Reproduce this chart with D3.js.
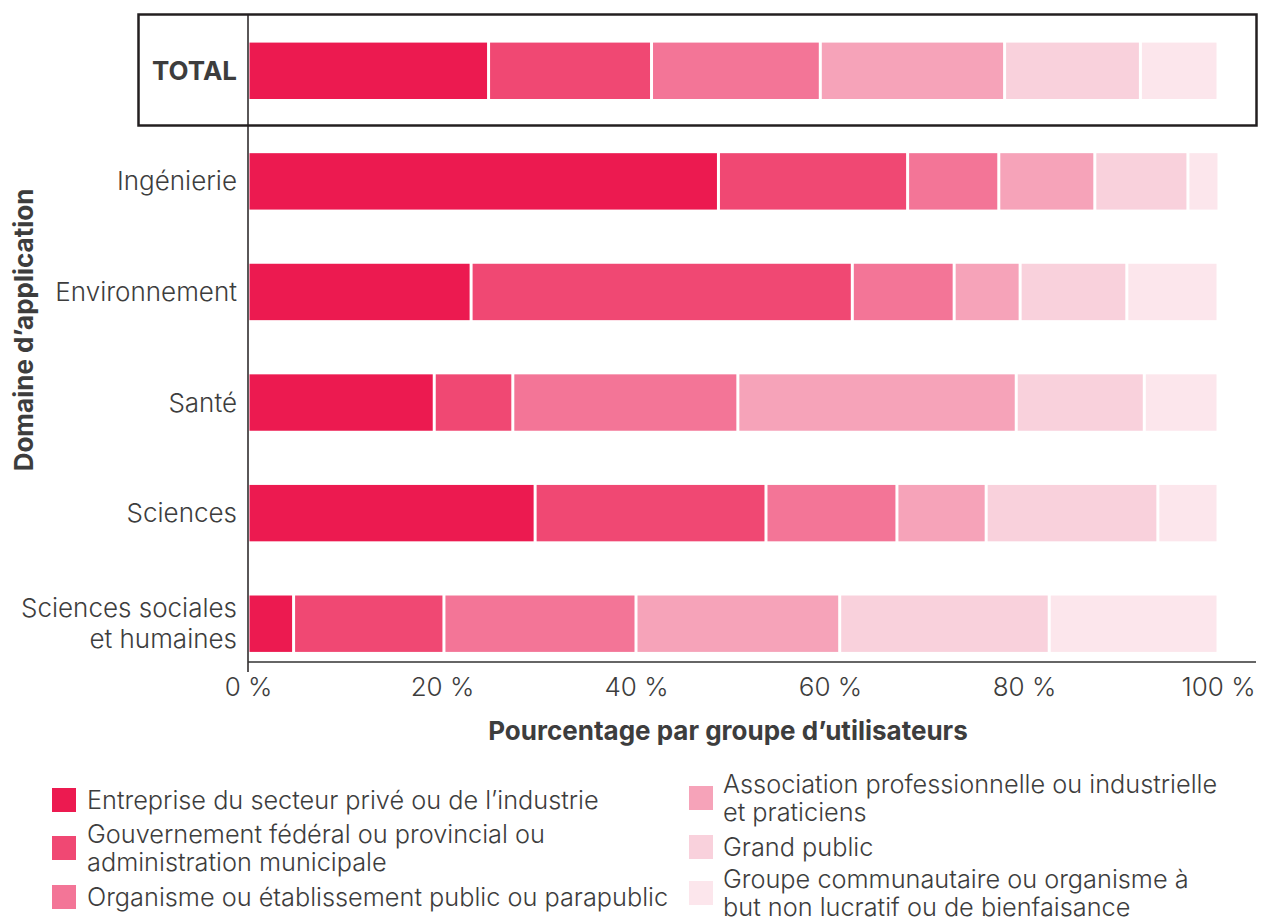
<!DOCTYPE html>
<html>
<head>
<meta charset="utf-8">
<script src="https://d3js.org/d3.v7.min.js"></script>
<style>
  body { margin: 0; background: #fff; }
  text { font-family: Inter, Roboto, "Liberation Sans", sans-serif; fill: #3d3d3d; }
</style>
</head>
<body>
<div id="chart"></div>
<script>
// domaines (axe vertical)
const categories = ["TOTAL", "Ingénierie", "Environnement", "Santé", "Sciences", "Sciences sociales et humaines"];
const categoryLines = [["TOTAL"], ["Ingénierie"], ["Environnement"], ["Santé"], ["Sciences"], ["Sciences sociales", "et humaines"]];

// groupes d'utilisateurs (% par domaine, même ordre que categories)
const prive         = [24.8, 48.5, 23.0, 19.2, 29.6,  4.7];
const gouvernement  = [16.8, 19.5, 39.3,  8.1, 23.8, 15.5];
const organisme     = [17.4,  9.4, 10.5, 23.2, 13.5, 19.8];
const association   = [19.0,  9.9,  6.8, 28.7,  9.2, 21.0];
const grandPublic   = [14.0,  9.6, 11.0, 13.2, 17.7, 21.6];
const communautaire = [ 8.0,  3.2,  9.4,  7.6,  6.2, 17.4];

const keys = ["prive", "gouvernement", "organisme", "association", "grandPublic", "communautaire"];
const colors = ["#ec1a50", "#f04873", "#f37597", "#f6a3b9", "#f9d1dc", "#fce6ec"];
const legendLines = [
  ["Entreprise du secteur privé ou de l’industrie"],
  ["Gouvernement fédéral ou provincial ou", "administration municipale"],
  ["Organisme ou établissement public ou parapublic"],
  ["Association professionnelle ou industrielle", "et praticiens"],
  ["Grand public"],
  ["Groupe communautaire ou organisme à", "but non lucratif ou de bienfaisance"]
];
const xTicks = [0, 20, 40, 60, 80, 100];

const width = 1262, height = 919;
const fs = 26, legendFs = 25.3;

const svg = d3.select("#chart").append("svg")
  .attr("width", width)
  .attr("height", height);

// build table for stack
const table = categories.map((c, i) => ({
  cat: c,
  prive: prive[i], gouvernement: gouvernement[i], organisme: organisme[i],
  association: association[i], grandPublic: grandPublic[i], communautaire: communautaire[i]
}));
const series = d3.stack().keys(keys)(table);

const x = d3.scaleLinear().domain([0, 100]).range([248, 1218]);
const y = d3.scaleBand().domain(categories)
  .range([15.5, 679])
  .paddingInner(0.49)
  .paddingOuter(0.245);

// bars
svg.append("g").selectAll("g")
  .data(series)
  .join("g")
  .attr("fill", (d, i) => colors[i])
  .selectAll("rect")
  .data(d => d)
  .join("rect")
  .attr("x", d => x(d[0]) + 1.5)
  .attr("y", d => y(d.data.cat))
  .attr("width", d => Math.max(0, x(d[1]) - x(d[0]) - 3))
  .attr("height", y.bandwidth());

// box around TOTAL
svg.append("rect")
  .attr("x", 138.5).attr("y", 14.5)
  .attr("width", 1118).attr("height", 111)
  .attr("fill", "none")
  .attr("stroke", "#231f20")
  .attr("stroke-width", 2.5);

// axis lines
svg.append("line")
  .attr("x1", 248).attr("x2", 248)
  .attr("y1", 14).attr("y2", 672)
  .attr("stroke", "#231f20").attr("stroke-width", 1.5);
svg.append("line")
  .attr("x1", 248).attr("x2", 1256)
  .attr("y1", 662).attr("y2", 662)
  .attr("stroke", "#333").attr("stroke-width", 1.5);

// x axis
const xAxis = svg.append("g")
  .attr("transform", "translate(0,662)")
  .call(d3.axisBottom(x).tickValues(xTicks).tickSize(0).tickPadding(16).tickFormat(d => d + " %"));
xAxis.select(".domain").remove();
xAxis.selectAll("text")
  .style("font-size", fs + "px").style("font-weight", 300)
  .attr("fill", "#3d3d3d");

// y axis labels
const yAxis = svg.append("g")
  .attr("transform", "translate(248,0)")
  .call(d3.axisLeft(y).tickSize(0).tickPadding(11));
yAxis.select(".domain").remove();
yAxis.selectAll("text")
  .attr("fill", "#3d3d3d")
  .style("font-size", fs + "px")
  .style("font-weight", (d, i) => i === 0 ? 700 : 300)
  .each(function(d, i) {
    const lines = categoryLines[i];
    const t = d3.select(this).text("").attr("dy", null);
    lines.forEach((l, j) => {
      t.append("tspan")
        .attr("x", -11)
        .attr("dy", j === 0 ? (0.35 - (lines.length - 1) * 0.62) + "em" : "1.2em")
        .text(l);
    });
  });

// axis titles
svg.append("text")
  .attr("x", 728).attr("y", 740)
  .attr("text-anchor", "middle")
  .style("font-size", fs + "px").style("font-weight", 700)
  .text("Pourcentage par groupe d’utilisateurs");

svg.append("text")
  .attr("transform", "translate(33,330) rotate(-90)")
  .attr("text-anchor", "middle")
  .style("font-size", fs + "px").style("font-weight", 700)
  .text("Domaine d’application");

// legend
const legendPos = [
  { sx: 52, tx: 87, y: 800 },
  { sx: 52, tx: 87, y: 848 },
  { sx: 52, tx: 87, y: 897 },
  { sx: 689, tx: 723, y: 798 },
  { sx: 689, tx: 723, y: 847 },
  { sx: 689, tx: 723, y: 893 }
];
const legend = svg.append("g").selectAll("g")
  .data(keys)
  .join("g");
legend.append("rect")
  .attr("x", (d, i) => legendPos[i].sx)
  .attr("y", (d, i) => legendPos[i].y - 12)
  .attr("width", 24).attr("height", 24)
  .attr("fill", (d, i) => colors[i]);
legend.append("text")
  .style("font-size", legendFs + "px").style("font-weight", 300)
  .each(function(d, i) {
    const lines = legendLines[i];
    const t = d3.select(this);
    lines.forEach((l, j) => {
      t.append("tspan")
        .attr("x", legendPos[i].tx)
        .attr("y", legendPos[i].y + 9 - (lines.length - 1) * 14 + j * 28)
        .text(l);
    });
  });
</script>
</body>
</html>
